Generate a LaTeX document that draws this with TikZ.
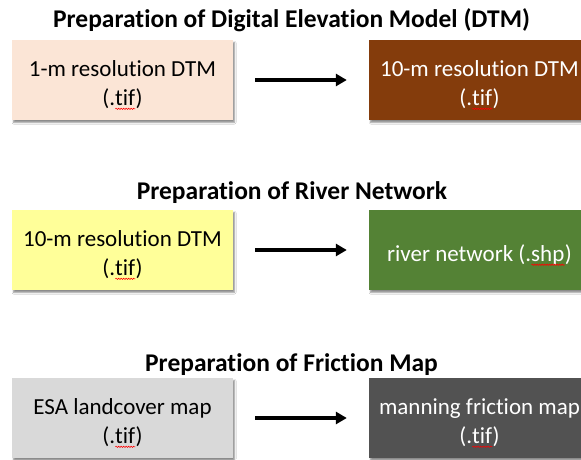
\documentclass[tikz,border=0pt]{standalone}
\usepackage{fontspec}
\setmainfont[Ligatures=NoCommon]{Carlito}
\usetikzlibrary{arrows.meta,shadows.blur,decorations.pathmorphing}

% red wavy underline, as a spell checker marks a word
\newlength{\markwd}
\newcommand{\spellmark}[1]{\settowidth{\markwd}{#1}\rlap{#1}\tikz[baseline=3.6pt]\draw[red, fill=none, line width=0.55pt, decorate,
    decoration={snake, amplitude=0.65pt, segment length=2.5pt}] (0pt,0pt) -- (\markwd,0pt);}

\definecolor{peach}{HTML}{FBE5D6}
\definecolor{rust}{HTML}{843C0C}
\definecolor{lemon}{HTML}{FFFF99}
\definecolor{leaf}{HTML}{548235}
\definecolor{silver}{HTML}{D9D9D9}
\definecolor{charcoal}{HTML}{525252}

\tikzset{
  heading/.style={font=\fontsize{25.5}{29}\selectfont\bfseries, inner sep=0pt},
  filebox/.style={minimum width=221pt, minimum height=80pt, inner sep=0pt,
    blur shadow={shadow xshift=1.5pt, shadow yshift=-2.5pt, shadow blur steps=6,
      shadow blur radius=1.5pt, shadow opacity=45}},
  filetext/.style={inner sep=0pt, align=center, yshift=-5pt,
    font=\fontsize{23}{29}\selectfont},
  flow/.style={line width=3.6pt, -{Triangle[length=11pt,width=12pt]},
    shorten <=22pt, shorten >=22pt}
}

\begin{document}
\begin{tikzpicture}[x=1pt, y=-1pt]
  \useasboundingbox (0,0) rectangle (581,459);
  \clip (0,0) rectangle (581,459);
  \fill[white] (0,0) rectangle (581,459);

  % digital elevation model
  \node[heading] (h1) at (291.5,20) {Preparation of Digital Elevation Model (DTM)};
  \node[filebox, fill=peach] (dtm1) at (122.5,80) {};
  \node[filetext] (dtm1txt) at (dtm1) {1-m resolution DTM\\(.\spellmark{tif})};
  \node[filebox, fill=rust] (dtm10) at (479.5,80) {};
  \node[filetext, text=white] (dtm10txt) at (dtm10) {10-m resolution DTM\\(.\spellmark{tif})};
  \draw[flow] (dtm1) -- (dtm10);

  % river network
  \node[heading] (h2) at (292,193) {Preparation of River Network};
  \node[filebox, fill=lemon] (dtmin) at (122.5,250) {};
  \node[filetext] (dtmintxt) at (dtmin) {10-m resolution DTM\\(.\spellmark{tif})};
  \node[filebox, fill=leaf] (river) at (479.5,250) {};
  \node[filetext, text=white] (rivertxt) at (river) {river network (.\spellmark{shp})};
  \draw[flow] (dtmin) -- (river);

  % friction map
  \node[heading] (h3) at (291.5,365) {Preparation of Friction Map};
  \node[filebox, fill=silver] (esa) at (122.5,418) {};
  \node[filetext] (esatxt) at (esa) {ESA landcover map\\(.\spellmark{tif})};
  \node[filebox, fill=charcoal] (manning) at (479.5,418) {};
  \node[filetext, text=white] (manningtxt) at (manning) {manning friction map\\(.\spellmark{tif})};
  \draw[flow] (esa) -- (manning);
\end{tikzpicture}
\end{document}
